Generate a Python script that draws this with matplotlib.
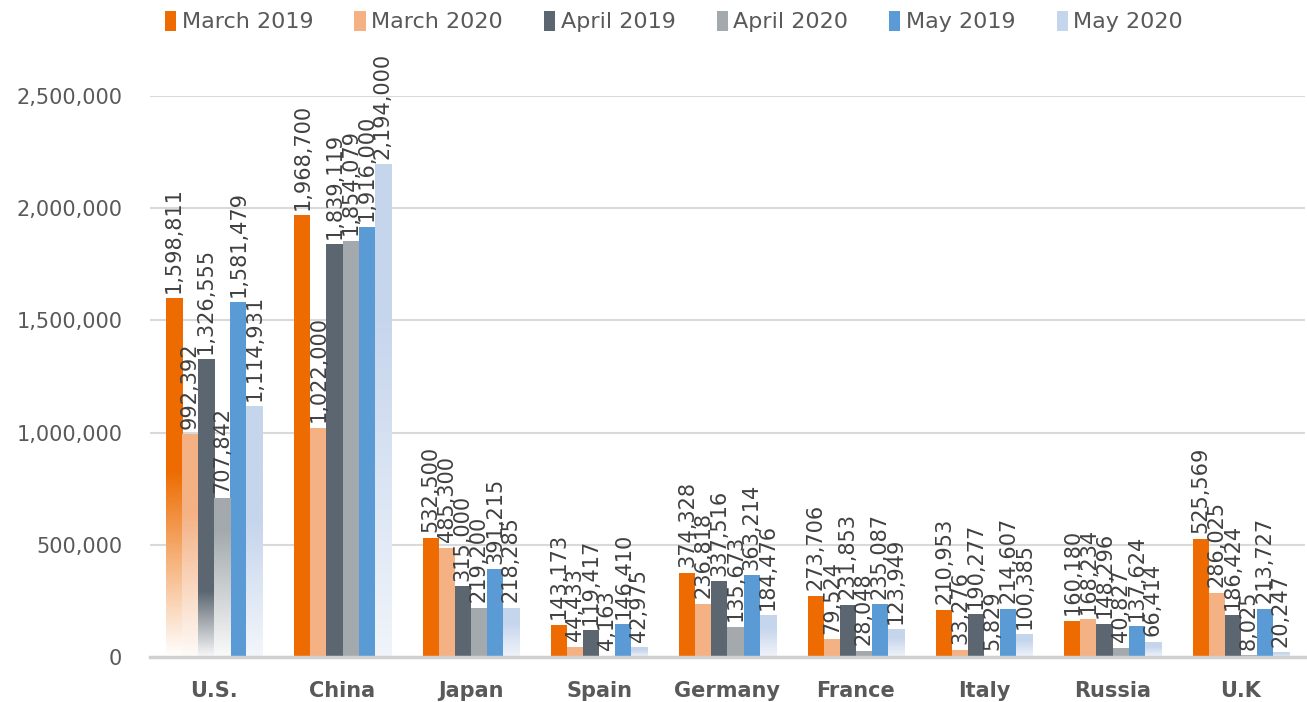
import numpy as np
import matplotlib
matplotlib.use("Agg")
import matplotlib.pyplot as plt
from matplotlib.patches import Patch
from matplotlib.colors import to_rgb

countries = ["U.S.", "China", "Japan", "Spain", "Germany", "France", "Italy", "Russia", "U.K"]
series_names = ["March 2019", "March 2020", "April 2019", "April 2020", "May 2019", "May 2020"]
march_2019 = [1598811, 1968700, 532500, 143173, 374328, 273706, 210953, 160180, 525569]
march_2020 = [992392, 1022000, 485300, 44433, 236818, 79524, 33276, 168234, 286025]
april_2019 = [1326555, 1839119, 315000, 119417, 337516, 231853, 190277, 148296, 186424]
april_2020 = [707842, 1854079, 219200, 4163, 135673, 28048, 5829, 40827, 8025]
may_2019 = [1581479, 1916000, 391215, 146410, 363214, 235087, 214607, 137624, 213727]
may_2020 = [1114931, 2194000, 218285, 42975, 184476, 123949, 100385, 66414, 20247]
series = [march_2019, march_2020, april_2019, april_2020, may_2019, may_2020]
yticks = [0, 500000, 1000000, 1500000, 2000000, 2500000]

colors = ["#ED6B00", "#F4B183", "#5B6670", "#A3A9AC", "#5B9BD5", "#C5D5EC"]
# white fade at the bottom of some bars: (fraction of bar height where fading starts, strength)
fade_us = [(0.52, 1.0), (0.65, 0.95), (0.22, 0.95), (0.8, 0.95), None, (0.55, 0.8)]
fade_other_may2020 = (0.7, 0.75)

plt.rcParams['font.family'] = ['DejaVu Sans']
fig = plt.figure(figsize=(13.07, 7.02), dpi=100)
ax = fig.add_axes([150/1307, 45/702, 1155/1307, 561/702])

n = len(series)
width = 0.125
x = np.arange(len(countries))
text_color = "#404040"

for i, (vals, col) in enumerate(zip(series, colors)):
    offs = (i - (n - 1) / 2) * width
    bars = ax.bar(x + offs, vals, width, color=col, zorder=2, linewidth=0)
    for j, rect in enumerate(bars):
        h = rect.get_height()
        fade = None
        if j == 0:
            fade = fade_us[i]
        elif i == 5:
            fade = fade_other_may2020
        if fade is not None:
            frac, strength = fade
            N = 200
            yy = np.linspace(0, 1, N)
            t = strength * np.clip((frac - yy) / frac, 0, 1)
            base = np.array(to_rgb(col))
            img = base[None, :] * (1 - t[:, None]) + np.ones(3)[None, :] * t[:, None]
            img = img[:, None, :]
            ax.imshow(img, extent=[rect.get_x(), rect.get_x() + rect.get_width(), 0, h],
                      origin='lower', aspect='auto', zorder=2.5, interpolation='bilinear')
        ax.text(rect.get_x() + rect.get_width() / 2, h + 25000, f"{vals[j]:,}",
                rotation=90, ha='center', va='bottom', fontsize=15,
                color=text_color, zorder=4, clip_on=False)

ax.set_xlim(-0.5, len(countries) - 0.5)
ax.set_ylim(0, 2500000)
ax.set_yticks(yticks)
ax.set_yticklabels([f"{v:,}" for v in yticks], fontsize=15, color="#595959")
ax.set_xticks(x)
ax.set_xticklabels(countries, fontsize=15, fontweight='bold', color="#595959")
ax.tick_params(axis='y', length=0, pad=20)
ax.tick_params(axis='x', length=0, pad=17)
ax.grid(axis='y', color="#d9d9d9", linewidth=1.5, zorder=0)
ax.set_axisbelow(True)
for s in ["top", "right", "left"]:
    ax.spines[s].set_visible(False)
ax.spines["bottom"].set_color("#d0d0d0")
ax.spines["bottom"].set_linewidth(2.5)
ax.spines["bottom"].set_zorder(3)

handles = [Patch(facecolor=c, edgecolor='none') for c in colors]
fig.legend(handles, series_names, loc='upper left', bbox_to_anchor=(145/1307, 1.013),
           ncol=6, frameon=False, fontsize=16, handlelength=0.5, handleheight=1.0,
           handletextpad=0.25, columnspacing=1.85, labelcolor="#595959")

fig.savefig("out.png", dpi=100)
